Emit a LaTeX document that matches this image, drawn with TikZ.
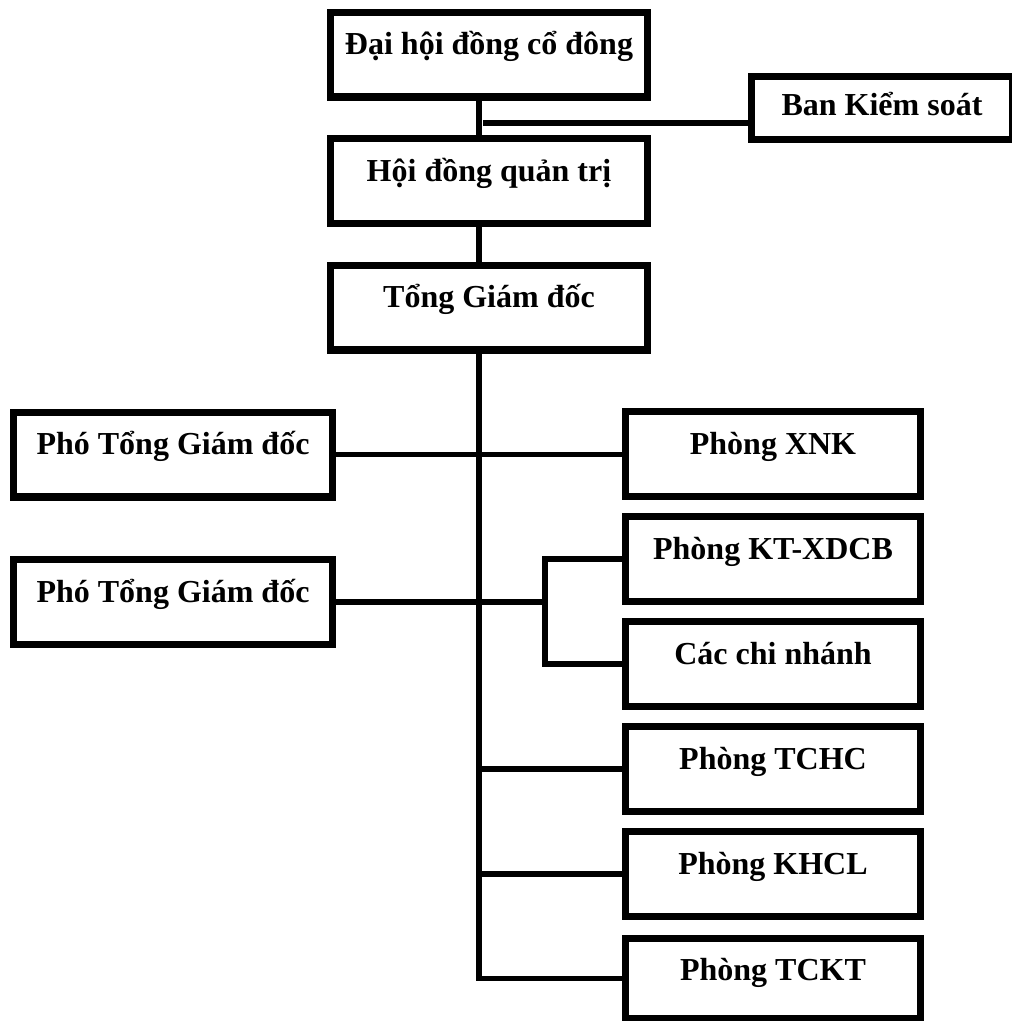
\documentclass[tikz,border=0pt]{standalone}
\usepackage{fontspec}
\setmainfont{Liberation Serif}
\begin{document}
\begin{tikzpicture}[x=0.75pt,y=-0.75pt,
  box/.style={draw=black, line width=5.6pt, inner sep=0pt,
    font=\bfseries\fontsize{24}{28}\selectfont,
    text height=31.7pt, text depth=31.7pt},
  topbox/.style={box, minimum width=237.4pt},
  pho/.style={box, minimum width=238.9pt},
  phong/.style={box, minimum width=220.9pt},
  conn/.style={draw=black, line width=4.1pt}]
\useasboundingbox (0,0) rectangle (1012,1021);
\clip (0,0) rectangle (1012,1021);
% top column
\node[topbox] (dh) at (489,54.5) {Đại hội đồng cổ đông};
\node[topbox] (hd) at (489,181) {Hội đồng quản trị};
\node[topbox] (tgd) at (489,307.5) {Tổng Giám đốc};
\node[box, minimum width=195.4pt, text height=28.7pt, text depth=18.2pt] (bks) at (882,108) {Ban Kiểm soát};
% deputies
\node[pho] (p1) at (173,454.5) {Phó Tổng Giám đốc};
\node[pho] (p2) at (173,602) {Phó Tổng Giám đốc};
% departments
\node[phong] (xnk) at (773,454) {Phòng XNK};
\node[phong] (kt) at (773,559) {Phòng KT-XDCB};
\node[phong] (cn) at (773,664) {Các chi nhánh};
\node[phong] (tchc) at (773,769) {Phòng TCHC};
\node[phong] (khcl) at (773,874) {Phòng KHCL};
\node[phong, text height=31.7pt, text depth=28.7pt] (tckt) at (773,978.5) {Phòng TCKT};
% helper coordinates
\coordinate (t0) at (479,0);
\coordinate (kj) at (483,123);
\coordinate (s) at (545,602);
% connectors
\draw[conn] (dh.south -| t0) -- (hd.north -| t0);
\draw[conn] (kj) -- (kj -| bks.west);
\draw[conn] (hd.south -| t0) -- (tgd.north -| t0);
\draw[conn] (tgd.south -| t0) -- (tckt.west -| t0) -- (tckt.west);
\draw[conn] (tchc.west -| t0) -- (tchc.west);
\draw[conn] (khcl.west -| t0) -- (khcl.west);
\draw[conn] (p1.east) -- (p1.east -| xnk.west);
\draw[conn] (p2.east) -- (s);
\draw[conn] (kt.west) -- (kt.west -| s) -- (cn.west -| s) -- (cn.west);
\end{tikzpicture}
\end{document}
